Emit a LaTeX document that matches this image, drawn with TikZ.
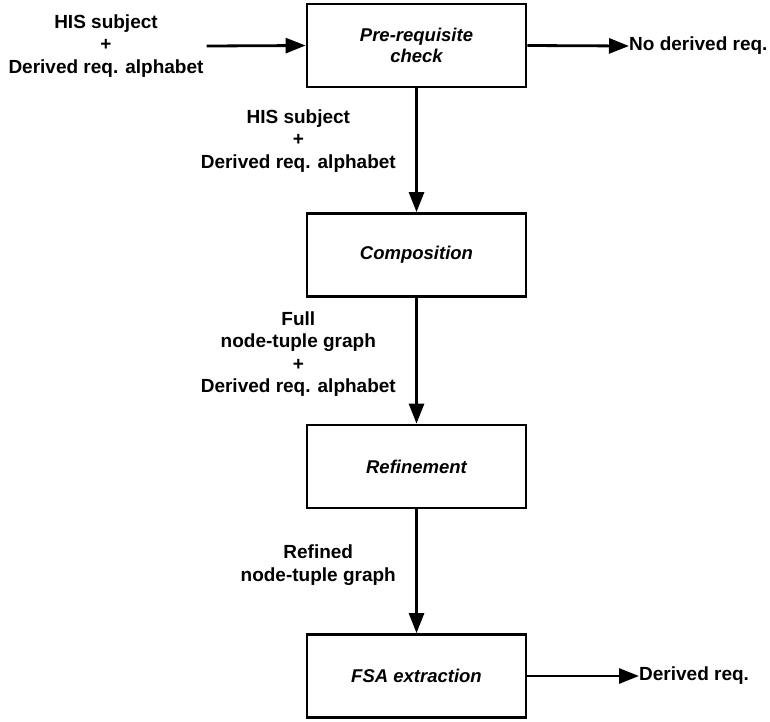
\documentclass[tikz,border=0pt]{standalone}
\usepackage{fontspec}
\setmainfont{Liberation Sans}
\usetikzlibrary{arrows.meta}
\begin{document}
\begin{tikzpicture}[x=1pt,y=-1pt,
  proc/.style={draw, line width=2.8pt, minimum width=219pt, minimum height=83pt,
    inner sep=0pt, align=center, font=\fontsize{18.5}{21.5}\selectfont\bfseries\itshape},
  lbl/.style={align=center, inner sep=0pt, font=\fontsize{19}{22.5}\selectfont\bfseries},
  flow/.style={line width=2.8pt, -{Triangle[length=20pt,width=15pt]}}]
\useasboundingbox (0,0) rectangle (770,721);

% process boxes
\node[proc] (pre)  at (416.5,45.5)  {Pre-requisite\\check};
\node[proc] (comp) at (416.5,255)   {Composition};
\node[proc] (ref)  at (416.5,466.5) {Refinement};
\node[proc] (fsa)  at (416.5,676)   {FSA extraction};

% data labels
\node[lbl] (in)   at (106,46) {HIS subject\\+\\Derived req. alphabet};
\node[lbl, anchor=west] (none) at (629,46) {No derived req.};
\node[lbl, anchor=east] (d1) at (396,141) {HIS subject\\+\\Derived req. alphabet};
\node[lbl, anchor=east] (d2) at (396,354) {Full\\node-tuple graph\\+\\Derived req. alphabet};
\node[lbl, anchor=east] (d3) at (396,565) {Refined\\node-tuple graph};
\node[lbl, anchor=west] (out) at (639,676) {Derived req.};

% flow arrows
\draw[flow] ([xshift=3pt]in.east) -- (pre.west);
\draw[flow] (pre.east) -- (none.west);
\draw[flow] (pre.south) -- (comp.north);
\draw[flow] (comp.south) -- (ref.north);
\draw[flow] (ref.south) -- (fsa.north);
\draw[flow] (fsa.east) -- (out.west);
\end{tikzpicture}
\end{document}
